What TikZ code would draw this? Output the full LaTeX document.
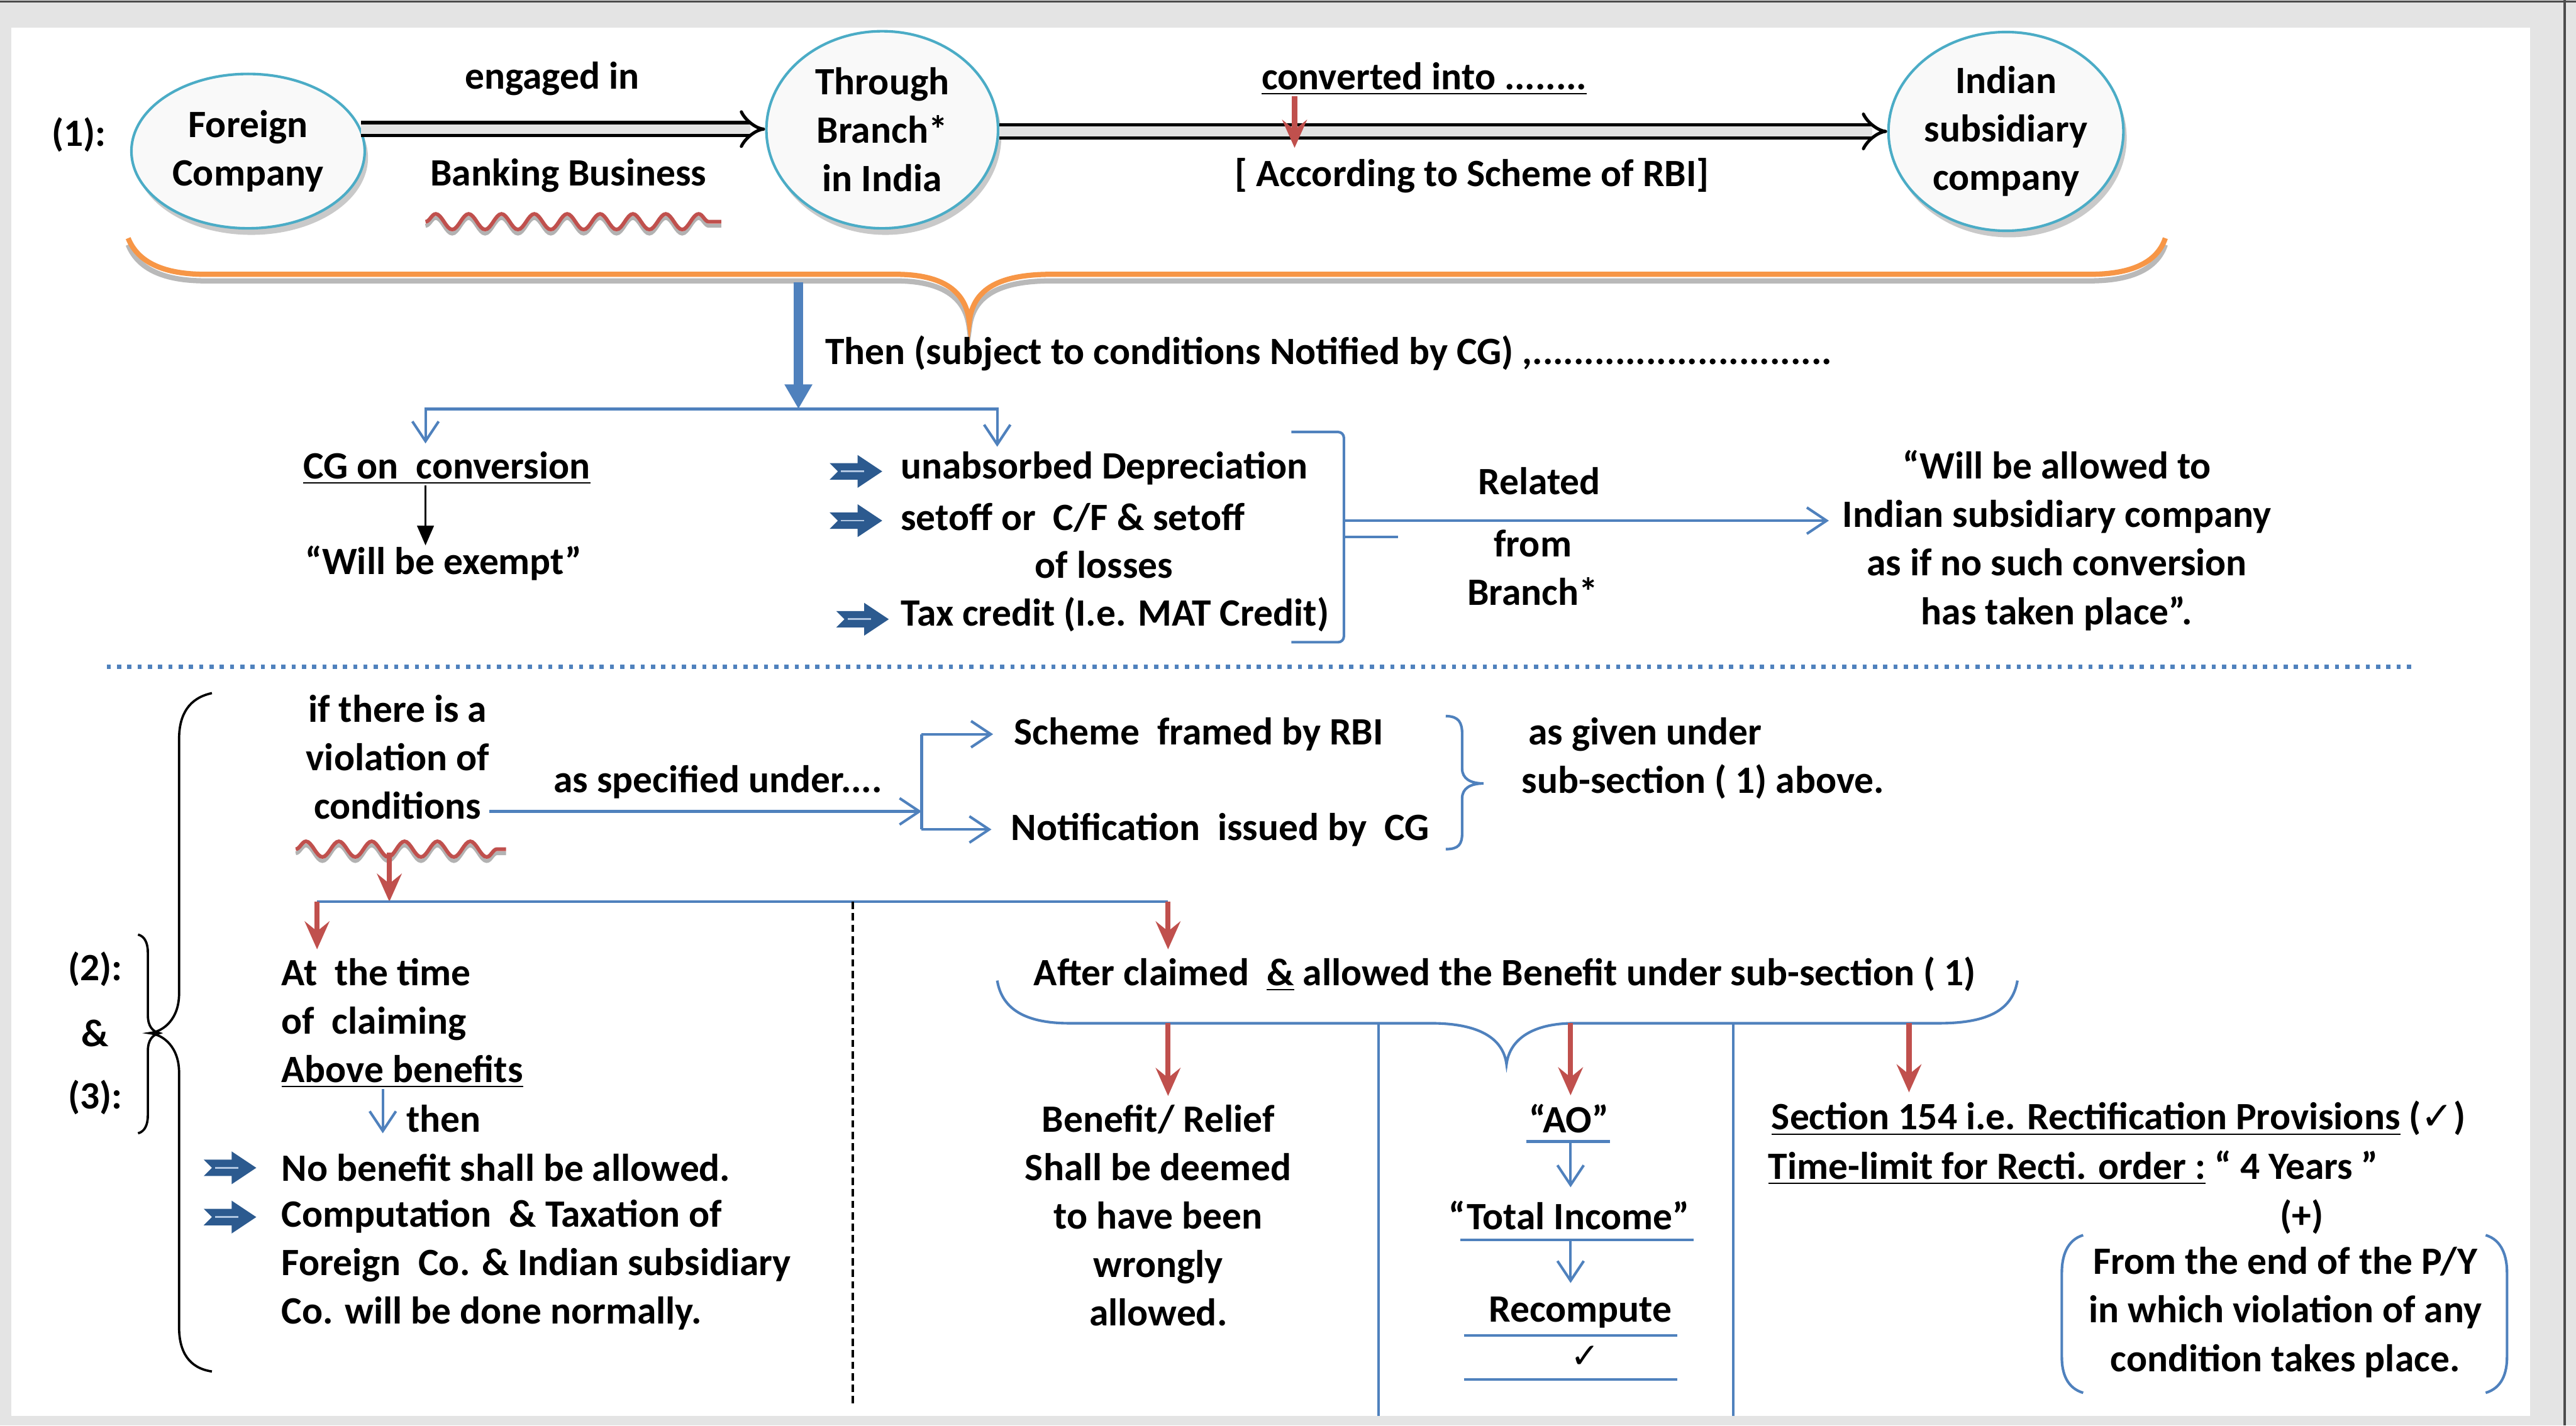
\documentclass[tikz,border=0pt]{standalone}
\usepackage{fontspec}
\setmainfont{Carlito}
\newfontfamily\symfont{DejaVu Sans}
\usetikzlibrary{shapes.geometric,arrows.meta,shadows,decorations.pathmorphing}

\definecolor{officeblue}{HTML}{4F81BD}
\definecolor{officered}{HTML}{C0504D}
\definecolor{officeorange}{HTML}{F79646}
\definecolor{ringblue}{HTML}{4BACC6}
\definecolor{bulletblue}{HTML}{2C5A8F}
\definecolor{framegray}{HTML}{E4E4E4}

\tikzset{
  bularrow/.pic={
    \fill[bulletblue] (-16,-5) -- (1,-5) -- (1,-10) -- (16,0) -- (1,10) -- (1,5) -- (-16,5) -- (-11,0) -- cycle;
    \draw[officeblue!45, line width=0.6pt] (-9,0) -- (5,0);
  }
}

\begin{document}
\begin{tikzpicture}[x=0.2mm,y=-0.2mm,
    every node/.style={font=\bfseries\fontsize{13.4}{16.8}\selectfont, inner sep=0pt, align=center},
    company/.style={ellipse, draw=ringblue, line width=0.9pt, fill=gray!5,
                    drop shadow={shadow xshift=0.4mm, shadow yshift=-0.8mm, fill=gray!70, opacity=0.6}},
    thinline/.style={draw=officeblue, line width=0.9pt},
    thinarrow/.style={thinline, -{Straight Barb[length=2.4mm,width=3.2mm]}},
    redarrow/.style={draw=officered, line width=1.8pt, -{Stealth[length=3.4mm,width=3mm,inset=1.2mm]}},
    hollow/.style={line width=1.1pt, double=gray!22, double distance=1.2mm, -{Implies}},
    wavy/.style={decorate, decoration={snake, segment length=4mm, amplitude=0.95mm}, line width=1.3pt},
    curly/.style={draw=black, line width=0.8pt}]

\useasboundingbox (0,0) rectangle (1568,868);
\fill[framegray] (0,0) rectangle (1568,868);
\fill[white] (7,17) rectangle (1540,862);
\draw[black!70, line width=0.8pt] (0,1) -- (1568,1);
\draw[black!70, line width=0.8pt] (1561,0) -- (1561,868);

% (1)
\node (one) at (48,82) {(1):};
\node[company, minimum width=28.4mm, minimum height=18.8mm] (fc) at (151,92) {Foreign\\Company};
\node[company, minimum width=28.2mm, minimum height=24mm] (br) at (537,79) {Through\\Branch*\\in India};
\node[company, minimum width=28.6mm, minimum height=24.2mm] (isc) at (1221,80) {Indian\\subsidiary\\company};

\node (eng) at (336,48) {engaged in};
\node (bank) at (346,107) {Banking Business};
\draw[hollow] (fc.11) -- (br.west |- fc.11);
\foreach \c/\s in {gray!60/-0.5mm, officered/0mm}
  \draw[wavy, draw=\c, yshift=\s] (259,135) -- (439,135);

\node (conv) at (867,48) {\underline{converted into ........}};
\node (rbi) at (896,107) {[ According to Scheme of RBI]};
\draw[hollow] (br.east |- isc.west) -- (isc.west);
\coordinate (convtip) at (788,90);
\draw[redarrow] (conv.south -| convtip) -- (convtip);

\foreach \c/\s in {gray!55/-0.8mm, officeorange/0mm}
  \draw[draw=\c, line width=1.8pt, yshift=\s] (78,145) .. controls (84,160) and (100,167) .. (125,167) -- (545,167)
    .. controls (575,167) and (588,178) .. (590,196) .. controls (592,178) and (605,167) .. (640,167)
    -- (1272,167) .. controls (1297,167) and (1313,160) .. (1318,145);

\coordinate (bt) at (486,172);
\coordinate (split) at (486,249);
\draw[officeblue, line width=1.2mm, -{Triangle[length=3mm,width=3.2mm]}] (bt) -- (split);
\node[anchor=west] (subj) at (502,215) {Then (subject to conditions Notified by CG) ,.............................};

\coordinate (cgtip) at (259,270);
\coordinate (deptip) at (607,272);
\draw[thinarrow] (split) -| (cgtip);
\draw[thinarrow] (split) -| (deptip);

\node (cgc) at (272,285) {\underline{CG on\ \ conversion}};
\node (exempt) at (270,343) {“Will be exempt”};
\draw[line width=0.8pt, -{Triangle[length=2.4mm,width=2mm]}] (cgc.south -| cgtip) -- (exempt.north -| cgtip);

\foreach \x/\y in {521/287, 521/317, 525/377}
  \pic at (\x,\y) {bularrow};
\node[anchor=west] (dep1) at (548,285) {unabsorbed Depreciation};
\node[anchor=west] (dep2) at (548,315) {setoff or\ \ C/F \& setoff};
\node (dep3) at (672,344) {of losses};
\node[anchor=west] (dep4) at (548,374) {Tax credit (I.e. MAT Credit)};

\draw[thinline, rounded corners=2pt] (786,263) -- (818,263) -- (818,391) -- (786,391);
\draw[thinline] (818,327) -- (851,327);
\coordinate (brk) at (818,317);
\node (rel) at (937,293) {Related};
\node (frm) at (933,331) {from};
\node (brn) at (933,360) {Branch*};
\node (allow) at (1252,329) {“Will be allowed to\\Indian subsidiary company\\as if no such conversion\\has taken place”.};
\draw[thinarrow, shorten >=1.6mm] (brk) -- (allow.west |- brk);

\draw[officeblue, line width=0.55mm, dash pattern=on 0.5mm off 0.75mm] (65,406) -- (1470,406);

% (2) & (3)
\node (two) at (58,590) {(2):};
\node (amp) at (58,629) {\&};
\node (three) at (58,668) {(3):};
\draw[curly] (129,422) .. controls (115,425) and (109,435) .. (109,450) -- (109,605)
  .. controls (109,620) and (100,628) .. (91,629) .. controls (100,630) and (109,638) .. (109,653)
  -- (109,808) .. controls (109,823) and (115,833) .. (129,835);
\draw[curly] (84,569) .. controls (88,570) and (90,574) .. (90,580) -- (90,618)
  .. controls (90,625) and (93,628) .. (97,629) .. controls (93,630) and (90,633) .. (90,640)
  -- (90,679) .. controls (90,685) and (88,689) .. (84,690);

\node (viol) at (242,461) {if there is a\\violation of\\conditions};
\node (spec) at (437,476) {as specified under....};
\coordinate (fork) at (561,494);
\draw[thinarrow] (viol.east |- fork) -- (fork);
\node[anchor=west] (scheme) at (617,447) {Scheme\ \ framed by RBI};
\node[anchor=west] (notif) at (615,505) {Notification\ \ issued by\ \ CG};
\draw[thinline] (fork |- scheme.west) -- (fork |- notif.west);
\draw[thinarrow, shorten >=2.5mm] (fork |- scheme.west) -- (scheme.west);
\draw[thinarrow, shorten >=2.3mm] (fork |- notif.west) -- (notif.west);
\draw[draw=officeblue, line width=0.9pt] (880,436) .. controls (888,436) and (890,440) .. (890,447) -- (890,468)
  .. controls (890,474) and (895,477) .. (903,477) .. controls (895,477) and (890,480) .. (890,486)
  -- (890,507) .. controls (890,514) and (888,517) .. (880,517);
\node[anchor=west] (given1) at (930,447) {as given under};
\node[anchor=west] (given2) at (926,476) {sub-section ( 1) above.};

\foreach \c/\s in {gray!60/-0.5mm, officered/0mm}
  \draw[wavy, draw=\c, yshift=\s] (180,517) -- (308,517);
\coordinate (wv) at (237,519);
\coordinate (vsplit) at (237,549);
\draw[redarrow] (wv) -- (vsplit);
\coordinate (lft) at (193,578);
\coordinate (rgt) at (711,578);
\draw[thinline] (lft |- vsplit) -- (rgt |- vsplit);
\draw[redarrow] (lft |- vsplit) -- (lft);
\draw[redarrow] (rgt |- vsplit) -- (rgt);
\draw[line width=0.8pt, dash pattern=on 0.9mm off 0.5mm] (519,549) -- (519,855);

\node[anchor=west, align=left] (claim) at (171,623) {At\ \ the time\\of\ \ claiming\\\underline{Above benefits}};
\node[anchor=west] (then) at (247,681) {then};
\coordinate (thenx) at (233,690);
\draw[thinarrow] (claim.south -| thenx) -- (thenx);
\foreach \y in {711,741}
  \pic at (140,\y) {bularrow};
\node[anchor=west] (nob) at (171,711) {No benefit shall be allowed.};
\node[anchor=west, align=left] (comp) at (171,770) {Computation\ \ \& Taxation of\\Foreign\ \ Co. \& Indian subsidiary\\Co. will be done normally.};

\node (after) at (916,593) {After claimed\ \ \underline{\&} allowed the Benefit under sub-section ( 1)};
\draw[thinline] (607,597) .. controls (610,615) and (625,623) .. (651,623) -- (871,623)
  .. controls (900,623) and (915,632) .. (917,648) .. controls (919,632) and (934,623) .. (958,623)
  -- (1180,623) .. controls (1210,623) and (1225,615) .. (1228,597);
\draw[thinline] (839,623) -- (839,862);
\draw[thinline] (1055,623) -- (1055,862);

\node (benefit) at (705,740) {Benefit/ Relief\\Shall be deemed\\to have been\\wrongly\\allowed.};
\node (ao) at (955,681) {“AO”};
\node (tinc) at (955,740) {“Total Income”};
\node (recomp) at (962,799) {Recompute};
\node[font=\symfont\fontsize{12}{14}\selectfont] (tick) at (965,826) {✓};
\node[anchor=west] (sec) at (1078,681) {\underline{Section 154 i.e. Rectification Provisions} ({\symfont\mdseries ✓})};
\node[anchor=west] (tl) at (1076,711) {\underline{Time-limit for Recti. order :} “ 4 Years ”};
\node (plus) at (1401,741) {(+)};
\node (from) at (1391,799) {From the end of the P/Y\\in which violation of any\\condition takes place.};

\coordinate (k1) at (711,623);
\coordinate (k2) at (956,623);
\coordinate (k3) at (1162,623);
\draw[redarrow, shorten >=1mm] (k1) -- (k1 |- benefit.north);
\draw[redarrow, shorten >=1mm] (k2) -- (k2 |- ao.north);
\draw[redarrow, shorten >=1mm] (k3) -- (k3 |- sec.north);

\coordinate (l1) at (956,695);
\coordinate (l2) at (956,755);
\draw[thinline] (929,695) -- (980,695);
\draw[thinline] (889,755) -- (1031,755);
\draw[thinline] (891,813) -- (1021,813);
\draw[thinline] (891,840) -- (1021,840);
\draw[thinarrow, shorten >=1.6mm] (l1) -- (l1 |- tinc.north);
\draw[thinarrow, shorten >=1.6mm] (l2) -- (l2 |- recomp.north);

\draw[thinline] (1268,752) .. controls (1258,755) and (1255,765) .. (1255,775) -- (1255,826)
  .. controls (1255,836) and (1258,845) .. (1268,848);
\draw[thinline] (1513,752) .. controls (1523,755) and (1526,765) .. (1526,775) -- (1526,826)
  .. controls (1526,836) and (1523,845) .. (1513,848);

\end{tikzpicture}
\end{document}
